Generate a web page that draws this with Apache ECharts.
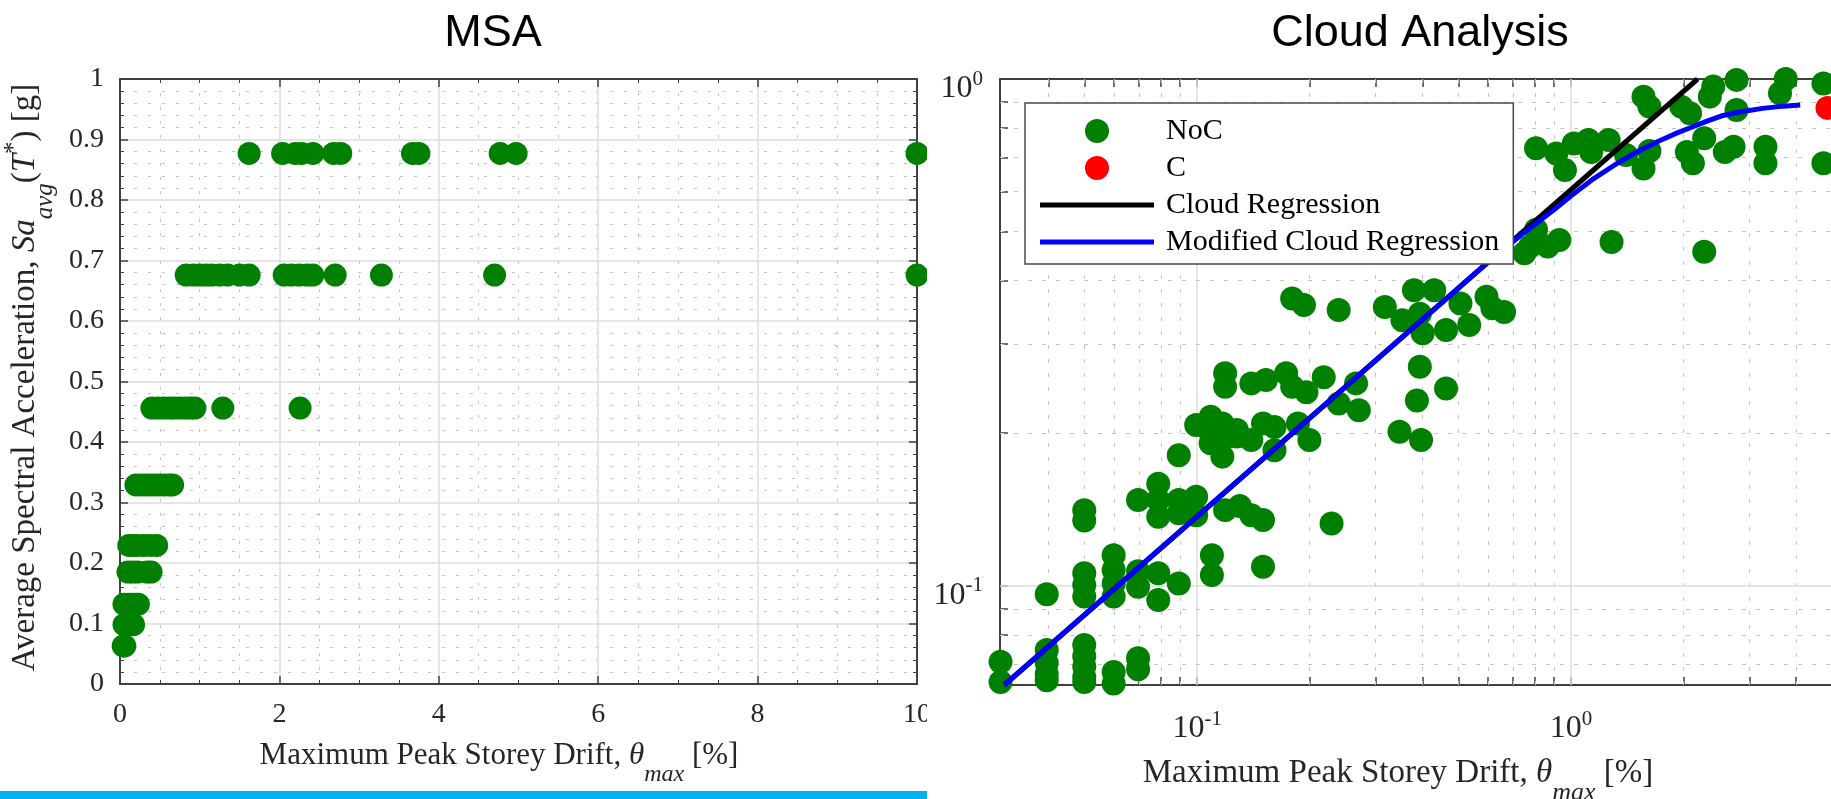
<!DOCTYPE html>
<html>
<head>
<meta charset="utf-8">
<script src="https://cdn.jsdelivr.net/npm/echarts@6/dist/echarts.min.js"></script>
<style>
  html, body { margin: 0; padding: 0; width: 1831px; height: 799px; overflow: hidden; background: #fff; }
  #msaWrap { position: absolute; left: 0; top: 0; width: 927px; height: 799px; overflow: hidden; }
  #msa { width: 1000px; height: 799px; }
  #cloud { position: absolute; left: 927px; top: 0; width: 1100px; height: 799px; background: #fff; }
</style>
</head>
<body>
<div id="msaWrap"><div id="msa"></div></div>
<div id="cloud"></div>
<script>
// ---- MSA stripes: intensity levels and the drifts recorded at each level ----
const msaLevels = [0.063, 0.098, 0.132, 0.185, 0.229, 0.329, 0.456, 0.676, 0.877];
const msaDrifts = [
  [0.04, 0.06],
  [0.05, 0.10, 0.14, 0.17],
  [0.05, 0.10, 0.15, 0.20, 0.23],
  [0.10, 0.16, 0.22, 0.34, 0.39],
  [0.11, 0.17, 0.22, 0.30, 0.38, 0.46],
  [0.20, 0.26, 0.32, 0.38, 0.44, 0.50, 0.56, 0.62, 0.66],
  [0.40, 0.48, 0.55, 0.62, 0.68, 0.75, 0.82, 0.88, 0.94, 1.29, 2.26],
  [0.83, 0.92, 1.00, 1.08, 1.15, 1.25, 1.35, 1.50, 1.62, 2.06, 2.15, 2.25, 2.35, 2.42, 2.70, 3.28, 4.70, 10],
  [1.62, 2.04, 2.20, 2.28, 2.42, 2.68, 2.77, 3.67, 3.75, 4.77, 4.97, 10]
];

// ---- Cloud analysis: non-collapse records (drift %, Sa g) ----
const cloudDrift = [
  0.0298, 0.0298, 0.0396, 0.0396, 0.0396, 0.0396, 0.0499, 0.0499, 0.0499, 0.0499, 0.0499, 0.0598, 0.0598, 0.0695, 0.0695,
  0.0396, 0.0499, 0.0499, 0.0499, 0.0598, 0.0598, 0.0598, 0.0598, 0.0695, 0.0695, 0.0787, 0.0787, 0.0893, 0.1095, 0.1095, 0.150,
  0.0499, 0.0499, 0.0695, 0.0787, 0.0787, 0.0787, 0.0893, 0.0893, 0.0994, 0.0994, 0.1188, 0.130, 0.1396, 0.150, 0.2288,
  0.0893, 0.0994, 0.1087, 0.1087, 0.1087, 0.1168, 0.1168, 0.1168, 0.1277, 0.1277, 0.1396, 0.150, 0.161, 0.161, 0.186, 0.1996, 0.239, 0.2706, 0.3476, 0.397,
  0.1188, 0.1188, 0.1396, 0.1527, 0.173, 0.1795, 0.196, 0.218, 0.266, 0.394, 0.463, 0.387,
  0.1795, 0.193, 0.239, 0.3176, 0.380, 0.4306, 0.354, 0.394, 0.463, 0.506, 0.534, 0.594, 0.662, 0.616, 0.401,
  0.750, 0.806, 0.866, 0.930, 0.777, 1.283, 2.27,
  0.806, 0.913, 0.963, 1.017, 1.112, 1.132, 1.26, 1.403, 1.562, 1.62, 1.562, 1.62, 1.971, 2.08, 2.04,
  2.117, 2.27, 2.40, 2.577, 2.72, 2.35, 2.77, 2.77, 3.31, 3.31, 3.75, 3.62, 4.73, 4.73
];
const cloudSa = [
  0.0708, 0.0646, 0.0747, 0.0704, 0.0670, 0.0651, 0.0764, 0.0726, 0.0693, 0.0661, 0.0646, 0.0676, 0.0641, 0.0719, 0.0684,
  0.0962, 0.1058, 0.1003, 0.0952, 0.1149, 0.1074, 0.1010, 0.0952, 0.1068, 0.0995, 0.1058, 0.0937, 0.1010, 0.1149, 0.1050, 0.109,
  0.141, 0.1345, 0.1476, 0.159, 0.1476, 0.1368, 0.1476, 0.139, 0.1498, 0.1378, 0.141, 0.1437, 0.1378, 0.1348, 0.1327,
  0.181, 0.2075, 0.2156, 0.200, 0.191, 0.209, 0.194, 0.1798, 0.203, 0.197, 0.194, 0.209, 0.2056, 0.185, 0.209, 0.194, 0.229, 0.222, 0.2013, 0.194,
  0.2626, 0.247, 0.2508, 0.2546, 0.2626, 0.247, 0.241, 0.258, 0.2508, 0.2705, 0.245, 0.232,
  0.369, 0.358, 0.350, 0.355, 0.383, 0.383, 0.334, 0.344, 0.3196, 0.3606, 0.327, 0.372, 0.347, 0.353, 0.315,
  0.453, 0.504, 0.467, 0.481, 0.467, 0.477, 0.456,
  0.730, 0.713, 0.661, 0.746, 0.758, 0.718, 0.758, 0.708, 0.666, 0.721, 0.923, 0.882, 0.882, 0.856, 0.718,
  0.682, 0.764, 0.966, 0.718, 0.735, 0.923, 0.996, 0.869, 0.735, 0.682, 1.000, 0.937, 0.980, 0.682
];

// ---- Collapse records ----
const collapseDrift = [4.85];
const collapseSa = [0.877];

// ---- Regression fits ----
const cloudRegDrift = [0.0305, 2.18];
const cloudRegSa = [0.0637, 1.0];
const modRegDrift = [0.0305, 0.6, 0.75, 0.9, 1.0, 1.15, 1.33, 1.5, 1.7, 1.9, 2.1, 2.3, 2.53, 2.8, 3.25, 3.7, 4.1];
const modRegSa = [0.0637, 0.435, 0.498, 0.552, 0.588, 0.636, 0.682, 0.718, 0.752, 0.780, 0.803, 0.825, 0.846, 0.860, 0.875, 0.884, 0.889];

// ---- Log-axis grid positions ----
const logMajorX = [0.1, 1];
const logMinorX = [0.04, 0.05, 0.06, 0.07, 0.08, 0.09, 0.2, 0.3, 0.4, 0.5, 0.6, 0.7, 0.8, 0.9, 2, 3, 4, 5, 6, 7, 8, 9];
const logMajorY = [0.1];
const logMinorY = [0.07, 0.08, 0.09, 0.2, 0.3, 0.4, 0.5, 0.6, 0.7, 0.8, 0.9];

const serif = '"Liberation Serif", "Times New Roman", serif';
const sans = '"Liberation Sans", Arial, sans-serif';
const ink = '#262626';
const axisColor = '#404040';
const majorGrid = { color: '#dcdcdc', width: 1.5, type: 'solid' };
const minorGrid = { color: '#c4c4c4', width: 1, type: [3, 11] };

function nameRich(main, sub, pad) {
  return {
    n: { fontFamily: serif, fontSize: main, color: ink },
    i: { fontFamily: serif, fontSize: main, color: ink, fontStyle: 'italic' },
    sub: { fontFamily: serif, fontSize: sub, color: ink, fontStyle: 'italic', padding: [pad, 0, 0, 0] },
    sup: { fontFamily: serif, fontSize: sub, color: ink, padding: [0, 0, Math.round(pad * 0.55), 0] }
  };
}

const driftName = '{n|Maximum Peak Storey Drift, }{i|θ}{sub|max}{n| [%]}';
const saName = '{n|Average Spectral Acceleration, }{i|Sa}{sub|avg}{n|(}{i|T}{sup|*}{n|) [g]}';

// ================= MSA panel =================
const msaData = [];
msaLevels.forEach((sa, i) => msaDrifts[i].forEach(d => msaData.push([d, sa])));

const boxAxis = {
  axisLine: { show: true, onZero: false, lineStyle: { color: axisColor, width: 2 } },
  axisTick: { show: true, inside: true, length: 8, lineStyle: { color: axisColor, width: 1.5 } },
  minorTick: { show: true, length: 4, lineStyle: { color: axisColor, width: 1 } }
};
const tickRich = { t: { fontFamily: serif, fontSize: 28, color: ink } };
const tickText = v => '{t|' + parseFloat(Number(v).toFixed(3)) + '}';

const msaChart = echarts.init(document.getElementById('msa'), null, { renderer: 'canvas' });
msaChart.setOption({
  animation: false,
  backgroundColor: '#fff',
  title: {
    text: 'MSA', left: 493, top: 11, textAlign: 'center', padding: 0,
    textStyle: { fontFamily: sans, fontSize: 45, fontWeight: 'normal', color: '#000', lineHeight: 45 }
  },
  grid: { left: 120, top: 79, width: 797, height: 605, outerBoundsMode: 'none' },
  xAxis: [
    Object.assign({}, boxAxis, {
      type: 'value', min: 0, max: 10, interval: 2, position: 'bottom',
      minorTick: Object.assign({}, boxAxis.minorTick, { splitNumber: 4 }),
      axisLabel: { formatter: tickText, rich: tickRich, margin: 17 },
      splitLine: { show: true, lineStyle: majorGrid },
      minorSplitLine: { show: true, lineStyle: minorGrid },
      name: driftName, nameLocation: 'middle', nameGap: 41,
      nameTextStyle: { padding: [0, 39, 0, 0], rich: nameRich(31, 24, 38) }
    }),
    Object.assign({}, boxAxis, {
      type: 'value', min: 0, max: 10, interval: 2, position: 'top',
      minorTick: Object.assign({}, boxAxis.minorTick, { splitNumber: 4 }),
      axisLabel: { show: false }, splitLine: { show: false }
    })
  ],
  yAxis: [
    Object.assign({}, boxAxis, {
      type: 'value', min: 0, max: 1, interval: 0.1, position: 'left',
      minorTick: Object.assign({}, boxAxis.minorTick, { splitNumber: 5 }),
      axisLabel: { formatter: tickText, rich: tickRich, margin: 16 },
      splitLine: { show: true, lineStyle: majorGrid },
      minorSplitLine: { show: true, lineStyle: minorGrid },
      name: saName, nameLocation: 'middle', nameGap: 55,
      nameTextStyle: { padding: [0, 0, 0, 8], rich: nameRich(33, 25, 40) }
    }),
    Object.assign({}, boxAxis, {
      type: 'value', min: 0, max: 1, interval: 0.1, position: 'right',
      minorTick: Object.assign({}, boxAxis.minorTick, { splitNumber: 5 }),
      axisLabel: { show: false }, splitLine: { show: false }
    })
  ],
  series: [{
    type: 'scatter', name: 'MSA', data: msaData, symbol: 'circle', symbolSize: 23,
    itemStyle: { color: '#008000', opacity: 1 }, clip: false, silent: true
  }],
  graphic: [{
    type: 'rect', left: 0, top: 791, shape: { width: 927, height: 8 },
    style: { fill: '#00b0f0' }, silent: true
  }]
});

// ================= Cloud panel =================
const noc = cloudDrift.map((d, i) => [d, cloudSa[i]]);
const col = collapseDrift.map((d, i) => [d, collapseSa[i]]);
const regLine = cloudRegDrift.map((d, i) => [d, cloudRegSa[i]]);
const modLine = modRegDrift.map((d, i) => [d, modRegSa[i]]);

const minorLog = { color: '#c4c4c4', width: 1, type: [4, 10] };
const gridLines = [];
logMajorX.forEach(v => gridLines.push({ xAxis: v, lineStyle: majorGrid }));
logMinorX.forEach(v => gridLines.push({ xAxis: v, lineStyle: minorLog }));
logMajorY.forEach(v => gridLines.push({ yAxis: v, lineStyle: majorGrid }));
logMinorY.forEach(v => gridLines.push({ yAxis: v, lineStyle: minorLog }));

const tickX = logMinorX.concat(logMajorX).sort((a, b) => a - b);
const tickY = logMinorY.concat(logMajorY).sort((a, b) => a - b);

function powLabel(v) {
  const lg = Math.log10(v);
  const e = Math.round(lg);
  return Math.abs(lg - e) < 1e-6 ? '{b|10}{s|' + e + '}' : '';
}
const powRich = {
  b: { fontFamily: serif, fontSize: 32, color: ink, padding: [20, 0, 0, 0] },
  s: { fontFamily: serif, fontSize: 21, color: ink }
};

const xLog = { type: 'log', logBase: 10, min: 0.0297, max: 10 };
const yLog = { type: 'log', logBase: 10, min: 0.0637, max: 1 };
const barIcon = 'path://M0 0H114V5H0Z';

const cloudChart = echarts.init(document.getElementById('cloud'), null, { renderer: 'canvas' });
cloudChart.setOption({
  animation: false,
  backgroundColor: '#fff',
  title: {
    text: 'Cloud Analysis', left: 493, top: 11, textAlign: 'center', padding: 0,
    textStyle: { fontFamily: sans, fontSize: 45, fontWeight: 'normal', color: '#000', lineHeight: 45 }
  },
  grid: { left: 73, top: 79, width: 945, height: 606, outerBoundsMode: 'none' },
  legend: {
    orient: 'vertical', left: 98, top: 103,
    padding: [13, 14, 7, 15], itemWidth: 114, itemHeight: 24, itemGap: 7,
    backgroundColor: '#fff', borderColor: '#4a4a4a', borderWidth: 1.5, borderRadius: 0,
    selectedMode: false, symbolKeepAspect: true,
    textStyle: { fontFamily: serif, fontSize: 30, color: '#000', padding: [0, 0, 0, 7] },
    data: [
      { name: 'NoC', icon: 'circle', itemStyle: { color: '#008000', opacity: 1, borderWidth: 0 } },
      { name: 'C', icon: 'circle', itemStyle: { color: '#ff0000', opacity: 1, borderWidth: 0 } },
      { name: 'Cloud Regression', icon: barIcon, itemStyle: { color: '#000000', borderWidth: 0 } },
      { name: 'Modified Cloud Regression', icon: barIcon, itemStyle: { color: '#0000ff', borderWidth: 0 } }
    ]
  },
  xAxis: [
    Object.assign({}, xLog, {
      position: 'bottom',
      axisLine: { show: true, onZero: false, lineStyle: { color: axisColor, width: 2 } },
      axisTick: { show: true, inside: true, length: 8, customValues: tickX, lineStyle: { color: axisColor, width: 1.5 } },
      axisLabel: { formatter: powLabel, rich: powRich, margin: 8 },
      splitLine: { show: false },
      name: driftName, nameLocation: 'middle', nameGap: 55,
      nameTextStyle: { padding: [0, 149, 0, 0], rich: nameRich(33, 26, 40) }
    }),
    Object.assign({}, xLog, {
      position: 'top',
      axisLine: { show: true, onZero: false, lineStyle: { color: axisColor, width: 2 } },
      axisTick: { show: true, inside: true, length: 8, customValues: tickX, lineStyle: { color: axisColor, width: 1.5 } },
      axisLabel: { show: false }, splitLine: { show: false }
    })
  ],
  yAxis: [
    Object.assign({}, yLog, {
      position: 'left',
      axisLine: { show: true, onZero: false, lineStyle: { color: axisColor, width: 2 } },
      axisTick: { show: true, inside: true, length: 8, customValues: tickY, lineStyle: { color: axisColor, width: 1.5 } },
      axisLabel: { formatter: powLabel, rich: powRich, margin: 17 },
      splitLine: { show: false }
    })
  ],
  series: [
    {
      type: 'line', name: 'grid', data: [], z: 1, silent: true, symbol: 'none',
      markLine: {
        silent: true, z: 1, symbol: ['none', 'none'], animation: false,
        label: { show: false }, emphasis: { disabled: true },
        data: gridLines
      }
    },
    {
      type: 'scatter', name: 'NoC', data: noc, symbol: 'circle', symbolSize: 24,
      itemStyle: { color: '#008000', opacity: 1 }, clip: false, z: 2
    },
    {
      type: 'scatter', name: 'C', data: col, symbol: 'circle', symbolSize: 24,
      itemStyle: { color: '#ff0000', opacity: 1 }, clip: false, z: 2
    },
    {
      type: 'line', name: 'Cloud Regression', data: regLine, symbol: 'none', showSymbol: false, z: 3,
      lineStyle: { color: '#000000', width: 5 }, itemStyle: { color: '#000000' }
    },
    {
      type: 'line', name: 'Modified Cloud Regression', data: modLine, symbol: 'none', showSymbol: false, z: 3,
      lineStyle: { color: '#0000ff', width: 5 }, itemStyle: { color: '#0000ff' }
    }
  ]
});
</script>
</body>
</html>
